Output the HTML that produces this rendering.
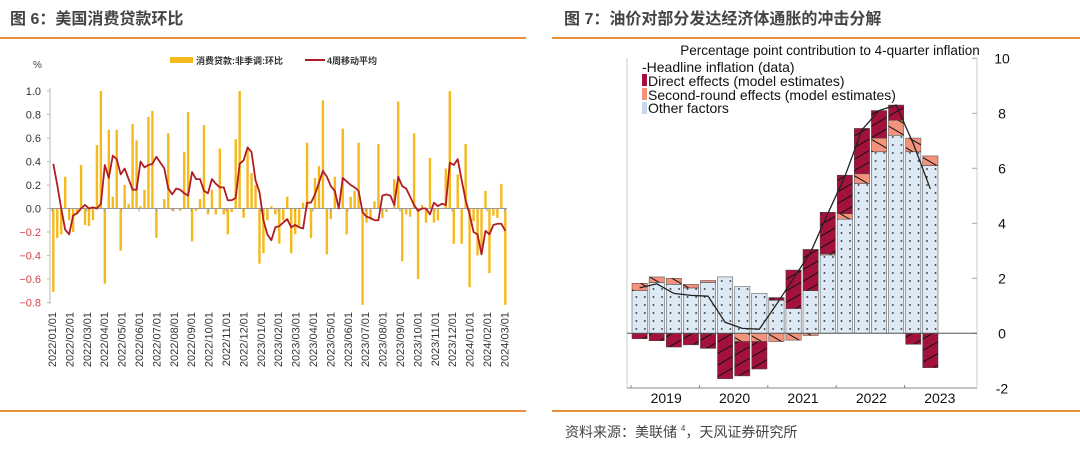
<!DOCTYPE html>
<html><head><meta charset="utf-8">
<style>
body{margin:0;background:#fff;width:1080px;height:453px;overflow:hidden;font-family:"Liberation Sans","Noto Sans CJK SC",sans-serif;}
svg{display:block}
</style></head>
<body>
<svg id="root" width="1080" height="453" viewBox="0 0 1080 453" xmlns="http://www.w3.org/2000/svg">
<defs>
<pattern id="dots" width="8.55" height="8" patternUnits="userSpaceOnUse" x="632" y="333">
<rect width="8.55" height="8" fill="#dde9f5"/><circle cx="4.3" cy="4" r="0.9" fill="#222"/></pattern>
<pattern id="hatchR" width="10" height="10" patternUnits="userSpaceOnUse" patternTransform="rotate(-30)">
<rect width="10" height="10" fill="#a3123c"/><line x1="0" y1="5" x2="10" y2="5" stroke="#111" stroke-width="1"/></pattern>
<pattern id="hatchS" width="10" height="10" patternUnits="userSpaceOnUse" patternTransform="rotate(30)">
<rect width="10" height="10" fill="#f4937b"/><line x1="0" y1="5" x2="10" y2="5" stroke="#111" stroke-width="1"/></pattern>
</defs>
<text x="10" y="24" font-size="16" font-weight="bold" fill="#444">图 6：美国消费贷款环比</text>
<line x1="0" y1="38" x2="526" y2="38" stroke="#e8913a" stroke-width="2"/>
<text x="564" y="24" font-size="16" font-weight="bold" fill="#444">图 7：油价对部分发达经济体通胀的冲击分解</text>
<line x1="552" y1="38" x2="1080" y2="38" stroke="#e8913a" stroke-width="2"/>
<line x1="0" y1="411" x2="526" y2="411" stroke="#e8913a" stroke-width="2"/>
<line x1="552" y1="411" x2="1080" y2="411" stroke="#e8913a" stroke-width="2"/>
<text x="565" y="437" font-size="14" fill="#444">资料来源：美联储 <tspan font-size="8" dy="-6">4</tspan><tspan dy="6">，天风证券研究所</tspan></text>

<g id="left">
<rect x="170" y="57" width="23" height="6" fill="#f5b91c"/>
<text x="196" y="64" font-size="9" font-weight="bold" fill="#333">消费贷款:非季调:环比</text>
<line x1="305" y1="60" x2="325" y2="60" stroke="#b01c22" stroke-width="2"/>
<text x="327" y="64" font-size="9" font-weight="bold" fill="#333">4周移动平均</text>
<text x="33" y="68" font-size="10" fill="#444">%</text>
<line x1="50" y1="88" x2="50" y2="304" stroke="#bbb" stroke-width="1"/>
</g>
<g id="right">
<line x1="627" y1="58" x2="627" y2="388" stroke="#ccc"/>
<line x1="627" y1="388" x2="977" y2="388" stroke="#888"/>
<line x1="977" y1="58" x2="977" y2="388" stroke="#ccc"/>
<text x="830" y="55" font-size="13.5" text-anchor="middle" fill="#111">Percentage point contribution to 4-quarter inflation</text>
<text x="642" y="72" font-size="14" fill="#111">-Headline inflation (data)</text>
<rect x="642" y="74" width="5" height="12" fill="#a3123c"/>
<text x="648" y="86" font-size="14" fill="#111">Direct effects (model estimates)</text>
<rect x="642" y="88" width="5" height="12" fill="#f4937b"/>
<text x="648" y="100" font-size="14" fill="#111">Second-round effects (model estimates)</text>
<rect x="642" y="102" width="5" height="12" fill="#c8d8ea"/>
<text x="648" y="113" font-size="14" fill="#111">Other factors</text>
</g>
</svg>
<script>
// ---- Left chart data ----
const weeklyChange = [-0.71,-0.25,-0.22,0.27,-0.1,-0.2,-0.05,0.37,-0.14,-0.15,-0.1,0.54,1.0,-0.64,0.67,0.1,0.67,-0.36,0.2,0.04,0.72,0.58,0.02,0.16,0.78,0.83,-0.25,0.0,0.08,0.64,-0.02,0.0,-0.02,0.48,0.82,-0.28,-0.02,0.08,0.71,-0.05,
0.16,-0.05,0.51,-0.05,-0.22,-0.03,0.59,1.0,-0.08,0.5,0.3,0.2,-0.47,-0.38,-0.1,0.02,-0.05,-0.3,-0.1,0.1,-0.38,-0.22,-0.15,0.05,0.56,-0.25,0.26,0.36,0.92,-0.39,-0.09,0.27,0.0,0.68,-0.22,0.1,0.15,0.56,-0.82,-0.12,
-0.1,0.06,0.55,-0.08,-0.03,0.0,0.25,0.91,-0.45,-0.05,-0.07,0.64,-0.6,0.03,-0.12,0.43,-0.12,-0.1,0.0,0.34,1.0,-0.3,0.29,-0.3,0.55,-0.67,-0.11,-0.4,-0.39,0.15,-0.55,-0.06,-0.08,0.21,-0.82];
const movingAvg = [0.38,0.2,0.0,-0.18,-0.22,-0.06,-0.04,0.0,0.03,0.0,0.01,0.0,0.04,0.37,0.26,0.45,0.42,0.29,0.34,0.25,0.16,0.16,0.4,0.35,0.37,0.38,0.44,0.39,0.34,0.17,0.12,0.17,0.16,0.13,0.11,0.31,0.25,0.25,0.15,0.13,
0.25,0.21,0.18,0.18,0.07,0.07,0.09,0.38,0.41,0.52,0.48,0.24,0.14,-0.1,-0.22,-0.27,-0.16,-0.15,-0.12,-0.09,-0.16,-0.14,-0.16,-0.17,0.05,0.05,0.12,0.22,0.32,0.27,0.19,0.15,0.0,0.26,0.23,0.2,0.18,0.15,-0.03,-0.07,
-0.08,-0.1,-0.1,0.11,0.12,0.11,0.03,0.27,0.19,0.17,0.1,0.03,-0.02,0.0,0.0,-0.05,0.05,0.02,0.04,0.03,0.39,0.37,0.42,0.24,0.07,-0.05,-0.2,-0.22,-0.39,-0.19,-0.22,-0.14,-0.13,-0.13,-0.19];
const leftTicks = [1.0,0.8,0.6,0.4,0.2,0.0,-0.2,-0.4,-0.6,-0.8];
const monthLabels = ["2022/01/01","2022/02/01","2022/03/01","2022/04/01","2022/05/01","2022/06/01","2022/07/01","2022/08/01","2022/09/01","2022/10/01","2022/11/01","2022/12/01","2023/01/01","2023/02/01","2023/03/01","2023/04/01","2023/05/01","2023/06/01","2023/07/01","2023/08/01","2023/09/01","2023/10/01","2023/11/01","2023/12/01","2024/01/01","2024/02/01","2024/03/01"];
// ---- Right chart data ----
const quarters = ["2019Q1","2019Q2","2019Q3","2019Q4","2020Q1","2020Q2","2020Q3","2020Q4","2021Q1","2021Q2","2021Q3","2021Q4","2022Q1","2022Q2","2022Q3","2022Q4","2023Q1","2023Q2"];
const otherFactors = [1.55,1.85,1.78,1.65,1.85,2.05,1.7,1.45,1.2,0.9,1.55,2.85,4.15,5.45,6.6,7.2,6.6,6.1];
const secondRound = [0.27,0.2,0.22,0.13,0.07,0,-0.3,-0.3,-0.3,-0.25,-0.08,0.05,0.2,0.35,0.5,0.55,0.5,0.35];
const directEffects = [-0.2,-0.27,-0.5,-0.42,-0.55,-1.65,-1.25,-1.0,0.1,1.4,1.5,1.5,1.4,1.65,1.0,0.55,-0.4,-1.25];
const headline = [1.65,1.8,1.45,1.38,1.35,0.4,0.18,0.15,1.05,2.0,2.95,4.35,5.7,7.4,8.1,8.3,6.9,5.25];
const rightTicks = [10,8,6,4,2,0,-2];
const yearLabels = ["2019","2020","2021","2022","2023"];

const NS="http://www.w3.org/2000/svg";
function mk(tag,attrs,parent){const e=document.createElementNS(NS,tag);for(const k in attrs)e.setAttribute(k,attrs[k]);parent.appendChild(e);return e;}
const L=document.getElementById('left'), R=document.getElementById('right');

// left axes
const ly=v=>208.5-v*117.5;
const lx=i=>53.3+i*(452/(weeklyChange.length-1));
const mx=i=>52+i*17.4;
leftTicks.forEach(t=>{
  const tx=mk('text',{x:41,y:ly(t)+4,'font-size':11,'text-anchor':'end',fill:t<0?'#d9404a':'#333'},L);
  
  
  tx.textContent=(t<0?'\u2212'+(-t).toFixed(1):t.toFixed(1));
  const tk=mk('line',{x1:47,x2:50,y1:ly(t),y2:ly(t),stroke:'#bbb'},L);
  
  
});
weeklyChange.forEach((v,i)=>{
  const b=mk('rect',{x:lx(i)-1.2,width:2.4,y:Math.min(ly(v),ly(0)),height:Math.abs(ly(v)-ly(0)),fill:'#f5b91c'},L);
  
  
});
const zl=mk('line',{x1:50,x2:507,y1:ly(0),y2:ly(0),stroke:'#999','stroke-width':1},L);


monthLabels.forEach((m,i)=>{
  const tk=mk('line',{x1:mx(i),x2:mx(i),y1:ly(0),y2:ly(0)+3,stroke:'#999'},L);
  
  
  const t=mk('text',{x:0,y:0,'font-size':11,'text-anchor':'end',fill:'#333',transform:`translate(${mx(i)+4},312) rotate(-90)`},L);
  
  
  t.textContent=m;
});
const ma=mk('polyline',{points:movingAvg.map((v,i)=>lx(i)+','+ly(v)).join(' '),fill:'none',stroke:'#b01c22','stroke-width':1.8,'stroke-linejoin':'round'},L);



// right axes
const ry=v=>333.3-v*27.5;
const bx=i=>632+i*17.1;
const bw=15.3;
rightTicks.forEach(t=>{
  const tx=mk('text',{x:1002,y:ry(t)+5,'font-size':14,'text-anchor':'middle',fill:'#111'},R);
  
  
  tx.textContent=t;
  const tk=mk('line',{x1:972,x2:977,y1:ry(t),y2:ry(t),stroke:'#aaa'},R);
  
  
});
yearLabels.forEach((y,i)=>{
  const cx=bx(2+i*4);
  const t=mk('text',{x:cx,y:403,'font-size':14,'text-anchor':'middle',fill:'#111'},R);
  
  
  t.textContent=y;
  const tk=mk('line',{x1:bx(i*4)-1,x2:bx(i*4)-1,y1:385,y2:388,stroke:'#888'},R);
  
  
});
function seg(i,a,b,fill,name){
  const r=mk('rect',{x:bx(i),width:bw,y:ry(Math.max(a,b)),height:Math.abs(ry(a)-ry(b)),fill:fill,stroke:'#444','stroke-width':0.5},R);
  
  
}
quarters.forEach((q,i)=>{
  let pos=0,neg=0;
  const o=otherFactors[i];
  if(o>=0){seg(i,0,o,'url(#dots)','other-factors-bar');pos=o;}else{seg(i,0,o,'url(#dots)','other-factors-bar');neg=o;}
  const s=secondRound[i];
  if(s>=0){seg(i,pos,pos+s,'url(#hatchS)','second-round-bar');pos+=s;}else{seg(i,neg,neg+s,'url(#hatchS)','second-round-bar');neg+=s;}
  const d=directEffects[i];
  if(d>=0){seg(i,pos,pos+d,'url(#hatchR)','direct-effects-bar');}else{seg(i,neg,neg+d,'url(#hatchR)','direct-effects-bar');}
});
const zr=mk('line',{x1:627,x2:977,y1:ry(0),y2:ry(0),stroke:'#555'},R);


const hl=mk('polyline',{points:headline.map((v,i)=>(bx(i)+bw/2)+','+ry(v)).join(' '),fill:'none',stroke:'#222','stroke-width':1.3},R);


</script>
</body></html>
